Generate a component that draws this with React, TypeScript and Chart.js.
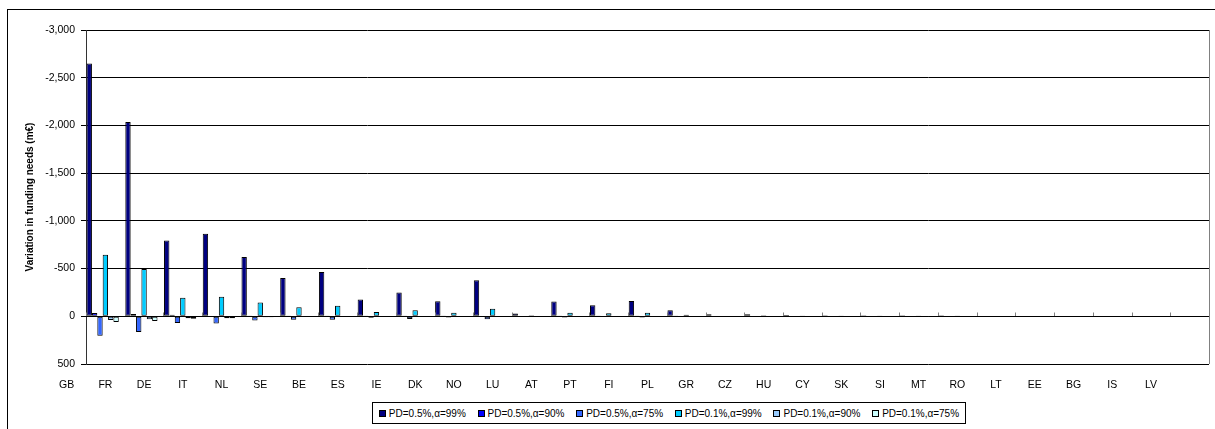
import React, { useEffect, useRef } from "react";
import { Chart, registerables } from "chart.js";

Chart.register(...registerables);

const categories = ["GB","FR","DE","IT","NL","SE","BE","ES","IE","DK","NO","LU","AT","PT","FI","PL","GR","CZ","HU","CY","SK","SI","MT","RO","LT","EE","BG","IS","LV"];

const seriesNames = [
  "PD=0.5%,α=99%",
  "PD=0.5%,α=90%",
  "PD=0.5%,α=75%",
  "PD=0.1%,α=99%",
  "PD=0.1%,α=90%",
  "PD=0.1%,α=75%",
];
const seriesColors = ["#000080", "#0000FF", "#3366FF", "#00CCFF", "#99CCFF", "#CCFFFF"];

const pd05a99 = [-2650,-2035,-795,-865,-620,-400,-465,-175,-248,-157,-377,-28,-154,-115,-161,-63,-21,-21,-14,-10,-10,-10,-10,0,0,0,0,0,0];
const pd05a90 = [-35,-25,-15,-5,-3,-2,-2,-2,-2,-2,-5,0,-2,-2,-2,-1,0,0,0,0,0,0,0,0,0,0,0,0,0];
const pd05a75 = [205,165,70,75,45,35,35,15,28,12,30,2,12,8,12,7,2,2,1,0,0,0,0,0,0,0,0,0,0];
const pd01a99 = [-645,-495,-195,-205,-145,-95,-110,-45,-63,-38,-80,-10,-38,-31,-38,-17,-5,-10,-3,-2,-2,-2,-2,0,0,0,0,0,0];
const pd01a90 = [40,30,20,20,10,8,8,3,5,3,5,1,3,3,3,1,0,0,0,0,0,0,0,0,0,0,0,0,0];
const pd01a75 = [60,50,25,20,10,8,8,3,5,3,5,1,3,3,3,1,0,0,0,0,0,0,0,0,0,0,0,0,0];

const seriesValues = [pd05a99, pd05a90, pd05a75, pd01a99, pd01a90, pd01a75];

const yTicks = [-3000, -2500, -2000, -1500, -1000, -500, 0, 500];

const FONT = "'Liberation Sans', Arial, sans-serif";

const zeroTicksPlugin = {
  id: "zeroTicks",
  afterDatasetsDraw(chart: any) {
    const { ctx, chartArea } = chart;
    const xs = chart.scales.x;
    const ys = chart.scales.y;
    const n = categories.length;
    const w = xs.width / n;
    const y0 = Math.round(ys.getPixelForValue(0)) + 0.5;
    ctx.save();
    ctx.strokeStyle = "#808080";
    ctx.lineWidth = 1;
    for (let i = 0; i <= n; i++) {
      const x = Math.round(xs.getPixelForValue(0) - w / 2 + i * w) + 0.5;
      ctx.beginPath();
      ctx.moveTo(x, y0 - 4);
      ctx.lineTo(x, y0);
      ctx.stroke();
    }
    ctx.strokeStyle = "#000";
    ctx.beginPath();
    ctx.moveTo(chartArea.left, y0);
    ctx.lineTo(chartArea.right, y0);
    ctx.stroke();
    ctx.strokeStyle = "#808080";
    const xr = Math.round(chartArea.right) + 0.5;
    ctx.beginPath();
    ctx.moveTo(xr, chartArea.top);
    ctx.lineTo(xr, chartArea.bottom);
    ctx.stroke();
    ctx.restore();
  },
};

export default function App() {
  const ref = useRef<HTMLCanvasElement>(null);

  useEffect(() => {
    if (!ref.current) return;
    const datasets: any[] = seriesValues.map((vals, i) => ({
      label: seriesNames[i],
      data: vals,
      backgroundColor: seriesColors[i],
      borderColor: "#000",
      borderWidth: 1,
      borderSkipped: false,
      barPercentage: 1,
      categoryPercentage: 0.97,
    }));
    datasets.push({
      label: "",
      data: categories.map(() => null),
      backgroundColor: "transparent",
      borderWidth: 0,
      barPercentage: 1,
      categoryPercentage: 0.97,
    });
    const chart = new Chart(ref.current, {
      type: "bar",
      data: { labels: categories, datasets },
      options: {
        animation: false,
        responsive: false,
        maintainAspectRatio: false,
        layout: { padding: { top: 30, right: 6, left: 0, bottom: 0 } },
        plugins: { legend: { display: false }, tooltip: { enabled: false } },
        scales: {
          x: {
            grid: { display: false, drawTicks: false },
            border: { display: false },
            ticks: {
              autoSkip: false,
              maxRotation: 0,
              minRotation: 0,
              padding: 15,
              labelOffset: -38.7,
              color: "#000",
              font: { family: FONT, size: 10.5 },
            },
            afterFit: (s: any) => { s.height = 65; },
          },
          y: {
            reverse: true,
            min: -3000,
            max: 500,
            afterBuildTicks: (s: any) => { s.ticks = yTicks.map((v) => ({ value: v })); },
            grid: { color: "#000", lineWidth: 1, tickLength: 5, tickColor: "#000" },
            border: { display: true, color: "#333" },
            ticks: {
              padding: 6,
              color: "#000",
              font: { family: FONT, size: 10.5 },
              callback: (v: any) => Number(v).toLocaleString("en-US"),
            },
            title: {
              display: true,
              text: "Variation in funding needs (m€)",
              color: "#000",
              font: { family: FONT, size: 10, weight: "bold" },
              padding: { top: 24, bottom: 0 },
            },
            afterFit: (s: any) => { s.width = 86; },
          },
        },
      },
      plugins: [zeroTicksPlugin],
    });
    return () => chart.destroy();
  }, []);

  return (
    <div style={{ position: "fixed", left: 0, top: 0, width: 1215, height: 429, overflow: "hidden", background: "#fff" }}>
      <div style={{ position: "absolute", left: 7, top: 9, width: 1300, height: 500, borderLeft: "1px solid #000", borderTop: "1px solid #000" }} />
      <canvas ref={ref} width={1215} height={429} style={{ position: "absolute", left: 0, top: 0 }} />
      <div
        style={{
          position: "absolute",
          left: 372,
          top: 402,
          width: 594,
          height: 22,
          boxSizing: "border-box",
          border: "1px solid #000",
          background: "#fff",
          display: "flex",
          alignItems: "center",
          justifyContent: "space-around",
          fontFamily: FONT,
          fontSize: 10,
          color: "#000",
          whiteSpace: "nowrap",
        }}
      >
        {seriesNames.map((n, i) => (
          <div key={n} style={{ display: "flex", alignItems: "center" }}>
            <span style={{ display: "inline-block", width: 7, height: 7, boxSizing: "border-box", border: "1px solid #000", background: seriesColors[i], marginRight: 3 }} />
            <span>{n}</span>
          </div>
        ))}
      </div>
    </div>
  );
}
